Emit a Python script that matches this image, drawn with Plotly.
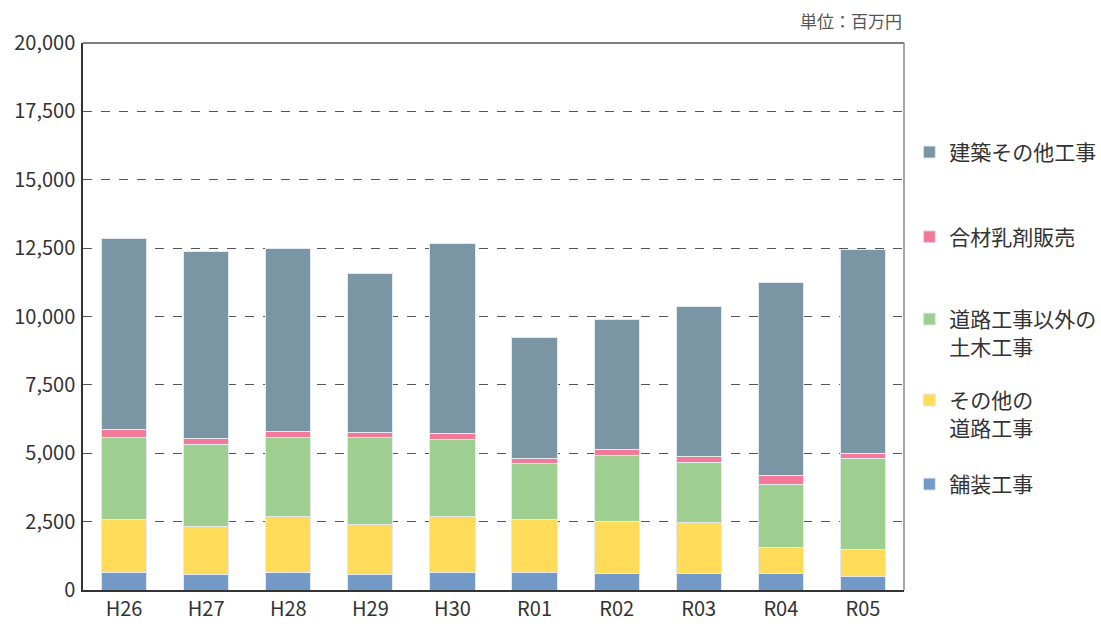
import plotly.graph_objects as go

years = ["H26", "H27", "H28", "H29", "H30", "R01", "R02", "R03", "R04", "R05"]

paving = [658, 585, 658, 585, 622, 658, 609, 597, 597, 487]
other_road = [1938, 1743, 2047, 1828, 2083, 1926, 1902, 1877, 963, 1000]
civil = [2998, 3010, 2889, 3156, 2816, 2035, 2413, 2206, 2291, 3303]
material = [292, 219, 207, 208, 207, 195, 219, 207, 342, 219]
building = [6984, 6812, 6691, 5801, 6947, 4436, 4754, 5472, 7068, 7434]

series = [
    ("舗装工事", paving, "#7399c6"),
    ("その他の<br>道路工事", other_road, "#fedb59"),
    ("道路工事以外の<br>土木工事", civil, "#9ecf91"),
    ("合材乳剤販売", material, "#f27a98"),
    ("建築その他工事", building, "#7a95a3"),
]

font = "Noto Sans CJK JP, Noto Sans, sans-serif"

# each series gets its own legend box so the rows sit at fixed heights
legend_ids = ["legend2", "legend3", "legend4", "legend5", "legend6"]
legend_y = [0.193, 0.322, 0.470, 0.645, 0.800]

fig = go.Figure()
for (name, vals, color), lid in zip(series, legend_ids):
    fig.add_trace(go.Bar(
        x=years, y=vals, name=name, legend=lid,
        marker=dict(color=color, line=dict(color="#e3e9ec", width=1)),
    ))

legend_style = dict(
    x=1.0065, xanchor="left", yanchor="middle", valign="top",
    font=dict(size=21, color="#333"), bgcolor="rgba(0,0,0,0)",
)

fig.update_layout(
    barmode="stack",
    bargap=0.45,
    width=1101, height=624,
    margin=dict(l=83, r=197, t=43, b=34, autoexpand=False),
    paper_bgcolor="white", plot_bgcolor="white",
    font=dict(family=font, size=20, color="#333"),
    annotations=[dict(
        text="単位：百万円", xref="paper", yref="paper", x=1.0, y=1.0,
        xanchor="right", yanchor="bottom", yshift=8, showarrow=False,
        font=dict(size=17, color="#555"),
    )],
)
for lid, ly in zip(legend_ids, legend_y):
    fig.update_layout({lid: dict(legend_style, y=ly)})

fig.update_yaxes(
    range=[0, 20000], dtick=2500, tickformat=",",
    showgrid=True, gridcolor="#555", griddash="dash", gridwidth=1,
    showline=True, linecolor="#333", linewidth=1.5, mirror=False,
    ticks="", ticklabelstandoff=2, zeroline=False, automargin=False,
)
fig.update_xaxes(
    showline=True, linecolor="#333", linewidth=1.5, ticks="", automargin=False,
)

# frame on top and right
fig.add_shape(type="line", xref="paper", yref="paper", x0=0, x1=1, y0=1, y1=1,
              line=dict(color="#555", width=1.5))
fig.add_shape(type="line", xref="paper", yref="paper", x0=1, x1=1, y0=0, y1=1,
              line=dict(color="#888", width=1.5))

# drop the page's default body margin so the figure fills the window
fig.write_html("out.html", config={"displayModeBar": False},
               post_script="document.body.style.margin='0';")
